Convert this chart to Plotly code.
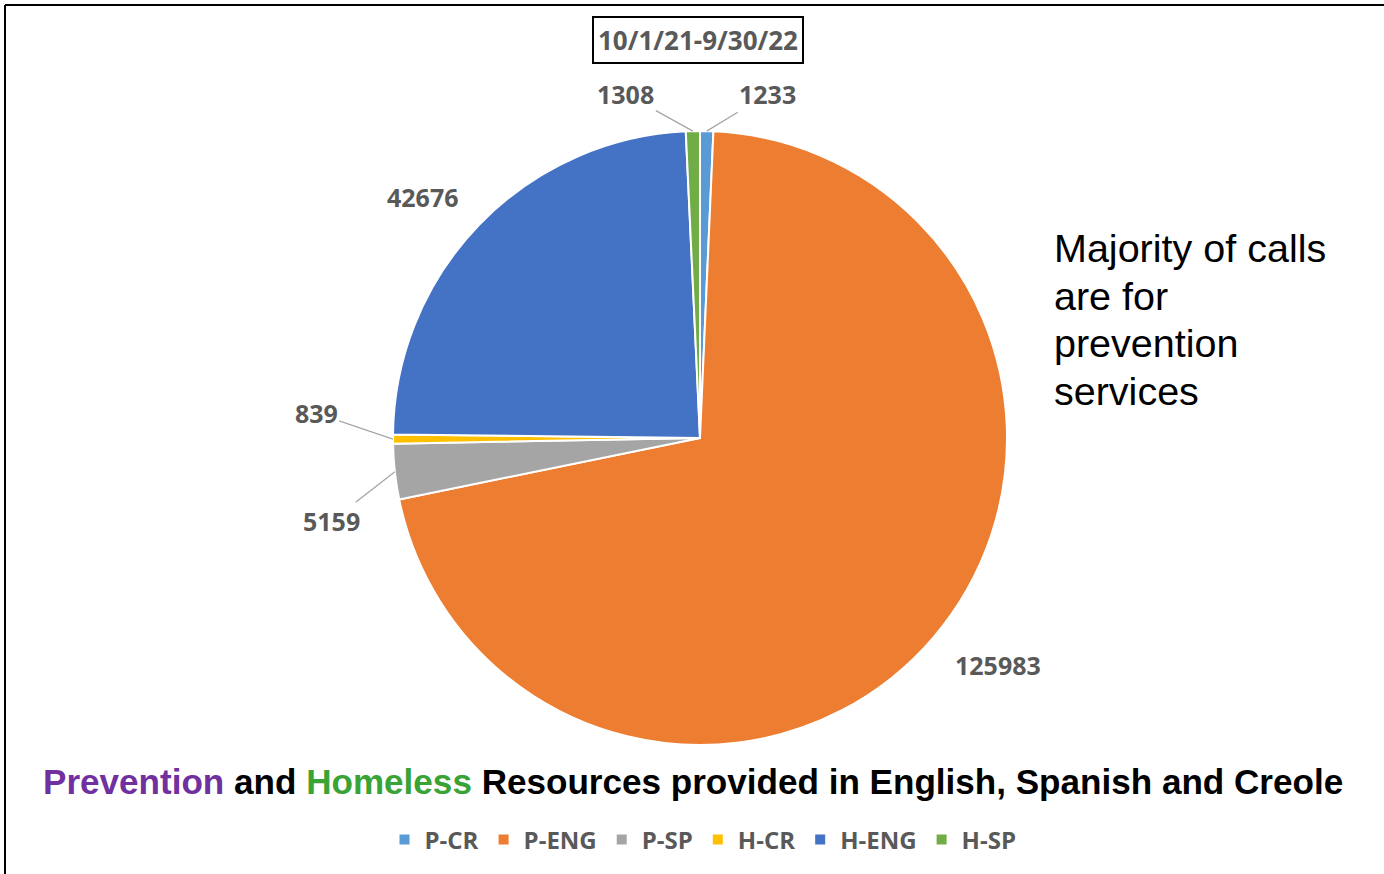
import math
import plotly.graph_objects as go

# ---- data ----
categories = ["P-CR", "P-ENG", "P-SP", "H-CR", "H-ENG", "H-SP"]
values = [1233, 125983, 5159, 839, 42676, 1308]
period_label = "10/1/21-9/30/22"
side_note = ["Majority of calls", "are for", "prevention", "services"]

# ---- style ----
colors = ["#5B9BD5", "#ED7D31", "#A5A5A5", "#FFC000", "#4472C4", "#70AD47"]
W, H = 1384, 874
CX, CY, R = 700, 438, 307  # pie centre / radius in px
label_font = dict(family="Open Sans", size=25, color="#595959", weight="bold")
# label placement: (leader line?, dx, dy) offsets in px from the slice's outer edge midpoint
label_style = {
    "P-CR": (True, 61, -37),
    "P-ENG": (False, 64, 28),
    "P-SP": (True, -63, 49),
    "H-CR": (True, -77, -26),
    "H-ENG": (False, -57, -28),
    "H-SP": (True, -67, -37),
}

fig = go.Figure()
fig.add_trace(go.Pie(
    labels=categories, values=values, sort=False, direction="clockwise",
    rotation=0, textinfo="none", hoverinfo="label+value",
    marker=dict(colors=colors, line=dict(color="white", width=2)),
    domain=dict(x=[(CX - R) / W, (CX + R) / W], y=[1 - (CY + R) / H, 1 - (CY - R) / H]),
))

total = sum(values)
cum = 0
annotations = []
for cat, v in zip(categories, values):
    mid = (cum + v / 2) / total
    cum += v
    th = 2 * math.pi * mid
    leader, dx, dy = label_style[cat]
    px = CX + R * math.sin(th)
    py = CY - R * math.cos(th)
    if leader:
        annotations.append(dict(
            x=px / W, y=1 - py / H, xref="paper", yref="paper",
            text=f"{v}", showarrow=True, arrowhead=0, arrowwidth=1.3,
            arrowcolor="#A6A6A6", ax=dx, ay=dy, font=label_font,
        ))
    else:
        annotations.append(dict(
            x=(px + dx) / W, y=1 - (py + dy) / H, xref="paper", yref="paper",
            xanchor="center", yanchor="middle",
            text=f"{v}", showarrow=False, font=label_font,
        ))

# period title box
annotations.append(dict(
    x=698 / W, y=1 - 40 / H, xref="paper", yref="paper", text=period_label,
    xanchor="center", yanchor="middle",
    showarrow=False, font=dict(family="Open Sans", size=26, color="#595959", weight="bold"),
    bordercolor="#000000", borderwidth=2, borderpad=4, bgcolor="white",
))
# side note, one annotation per line
for i, line in enumerate(side_note):
    annotations.append(dict(
        x=1052 / W, y=1 - (248 + 47.7 * i) / H, xref="paper", yref="paper",
        xanchor="left", yanchor="middle", align="left", text=line, showarrow=False,
        font=dict(family="Liberation Sans", size=39.5, color="#000000"),
    ))
# bottom headline
annotations.append(dict(
    x=693 / W, y=1 - 781 / H, xref="paper", yref="paper", showarrow=False,
    xanchor="center", yanchor="middle",
    text=("<span style='color:#7030A0'>Prevention</span> and "
          "<span style='color:#3AA335'>Homeless</span> Resources provided in "
          "English, Spanish and Creole"),
    font=dict(family="Liberation Sans", size=35.1, color="#000000", weight="bold"),
))

shapes = [
    dict(type="line", xref="paper", yref="paper", x0=5 / W, x1=5 / W, y0=0, y1=1 - 5 / H,
         line=dict(color="#000000", width=2)),
    dict(type="line", xref="paper", yref="paper", x0=5 / W, x1=1, y0=1 - 5 / H, y1=1 - 5 / H,
         line=dict(color="#000000", width=2)),
]

fig.update_layout(
    width=W, height=H, margin=dict(l=0, r=0, t=0, b=0),
    paper_bgcolor="white", plot_bgcolor="white",
    annotations=annotations, shapes=shapes,
    legend=dict(orientation="h", x=703 / W, xanchor="center", y=1 - 840 / H, yanchor="middle",
                font=dict(family="Open Sans", size=24, color="#595959", weight="bold"),
                itemwidth=30, traceorder="normal"),
    showlegend=True,
)

fig.write_html("out.html", config={"displayModeBar": False},
               post_script="document.body.style.margin='0';")
